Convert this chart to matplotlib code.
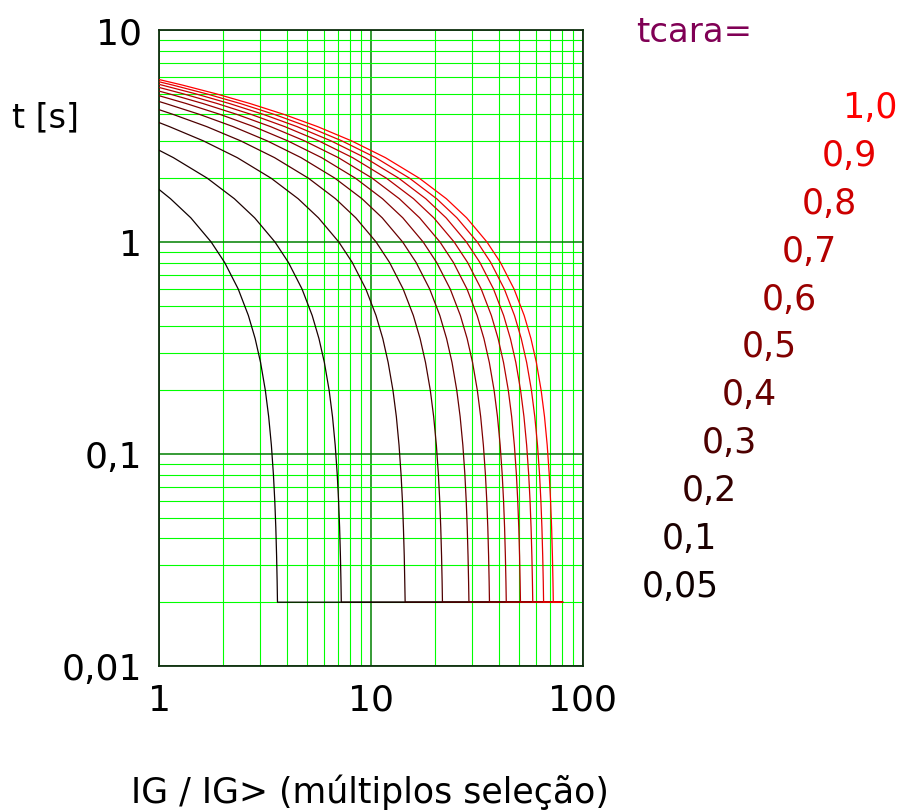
import matplotlib
matplotlib.use("Agg")
import matplotlib.pyplot as plt
from matplotlib.ticker import NullFormatter, LogLocator

# tcara settings and label texts
tcara = [0.05, 0.1, 0.2, 0.3, 0.4, 0.5, 0.6, 0.7, 0.8, 0.9, 1.0]
tcara_labels = ['0,05', '0,1', '0,2', '0,3', '0,4', '0,5', '0,6', '0,7', '0,8', '0,9', '1,0']
curve_colors = ['#0d0000', '#1a0000', '#330000', '#4d0000', '#660000', '#800000',
                '#990000', '#b30000', '#cc0000', '#e60000', '#ff0000']

# t at IG/IG> = 1 for each curve
t_start = [1.77, 2.71, 3.66, 4.21, 4.60, 4.90, 5.15, 5.36, 5.54, 5.70, 5.84]

# time levels at which the crossing multiples were read
t_levels = [5.5, 5.0, 4.5, 4.0, 3.5, 3.0, 2.5, 2.0, 1.6, 1.3, 1.0, 0.8, 0.6, 0.45,
            0.35, 0.27, 0.2, 0.15, 0.11, 0.08, 0.06, 0.045, 0.033, 0.025, 0.02]

# multiples IG/IG> where each curve crosses the last len(row) entries of t_levels
x_cross = [
    [1.133, 1.413, 1.762, 2.041, 2.364, 2.640, 2.842, 3.014, 3.173, 3.291, 3.389,
     3.465, 3.517, 3.556, 3.587, 3.608, 3.621],
    [1.169, 1.689, 2.267, 2.826, 3.524, 4.081, 4.728, 5.280, 5.683, 6.027, 6.345,
     6.583, 6.779, 6.930, 7.033, 7.111, 7.174, 7.216, 7.243],
    [1.121, 1.618, 2.339, 3.378, 4.533, 5.652, 7.049, 8.163, 9.457, 10.56, 11.37,
     12.05, 12.69, 13.17, 13.56, 13.86, 14.07, 14.22, 14.35, 14.43, 14.49],
    [1.164, 1.681, 2.428, 3.508, 5.067, 6.800, 8.478, 10.57, 12.24, 14.18, 15.84,
     17.05, 18.08, 19.04, 19.75, 20.34, 20.79, 21.10, 21.33, 21.52, 21.65, 21.73],
    [1.075, 1.552, 2.241, 3.237, 4.678, 6.756, 9.067, 11.30, 14.10, 16.33, 18.91,
     21.12, 22.73, 24.11, 25.38, 26.33, 27.12, 27.72, 28.13, 28.44, 28.69, 28.86, 28.97],
    [1.343, 1.940, 2.802, 4.046, 5.847, 8.445, 11.33, 14.13, 17.62, 20.41, 23.64,
     26.40, 28.42, 30.14, 31.73, 32.91, 33.89, 34.65, 35.17, 35.56, 35.87, 36.08, 36.21],
    [1.116, 1.612, 2.328, 3.362, 4.855, 7.016, 10.13, 13.60, 16.96, 21.15, 24.49, 28.37,
     31.68, 34.10, 36.16, 38.07, 39.50, 40.67, 41.58, 42.20, 42.67, 43.04, 43.30, 43.46],
    [1.302, 1.881, 2.717, 3.923, 5.665, 8.186, 11.82, 15.87, 19.78, 24.67, 28.57, 33.10,
     36.96, 39.78, 42.19, 44.42, 46.08, 47.45, 48.51, 49.23, 49.78, 50.22, 50.51, 50.70],
    [1.031, 1.488, 2.149, 3.105, 4.483, 6.474, 9.355, 13.51, 18.13, 22.61, 28.19, 32.65,
     37.83, 42.24, 45.46, 48.22, 50.76, 52.66, 54.23, 55.44, 56.27, 56.89, 57.39, 57.73, 57.94],
    [1.160, 1.674, 2.418, 3.493, 5.043, 7.283, 10.52, 15.20, 20.40, 25.43, 31.72, 36.73,
     42.55, 47.52, 51.15, 54.24, 57.11, 59.24, 61.01, 62.37, 63.30, 64.00, 64.56, 64.95, 65.18],
    [1.288, 1.860, 2.686, 3.881, 5.604, 8.092, 11.69, 16.89, 22.67, 28.26, 35.24, 40.81,
     47.28, 52.80, 56.83, 60.27, 63.45, 65.83, 67.79, 69.30, 70.33, 71.11, 71.74, 72.16, 72.43],
]

t_min = 0.02      # definite minimum time
x_end = 80        # curves are drawn up to this multiple

W, H = 899, 812
fig = plt.figure(figsize=(W / 100, H / 100), dpi=100)
ax = fig.add_axes([159 / W, 1 - 667 / H, (583 - 159) / W, (667 - 31) / H])
ax.set_xscale('log')
ax.set_yscale('log')
ax.set_xlim(1, 100)
ax.set_ylim(0.01, 10)

for i, tc in enumerate(tcara):
    xc = x_cross[i]
    xs = [1] + xc + [x_end]
    ts = [t_start[i]] + t_levels[-len(xc):] + [t_min]
    ax.plot(xs, ts, color=curve_colors[i], lw=0.9, solid_joinstyle='round', zorder=3)

# grid
ax.set_axisbelow(True)
ax.xaxis.set_minor_locator(LogLocator(base=10, subs=range(2, 10)))
ax.yaxis.set_minor_locator(LogLocator(base=10, subs=range(2, 10)))
ax.xaxis.set_minor_formatter(NullFormatter())
ax.yaxis.set_minor_formatter(NullFormatter())
ax.grid(which='minor', color='#00ff00', lw=0.8)
ax.grid(which='major', color='#008000', lw=1.1)

ax.set_xticks([1, 10, 100], ['1', '10', '100'])
ax.set_yticks([0.01, 0.1, 1, 10], ['0,01', '0,1', '1', '10'])
ax.tick_params(which='both', length=0, labelsize=26)
ax.tick_params(axis='x', pad=12)
ax.tick_params(axis='y', pad=12)
for s in ax.spines.values():
    s.set_color('#0f2f0f')
    s.set_linewidth(1.3)

# axis titles
fig.text(12 / W, 1 - 118 / H, 't [s]', fontsize=24, ha='left', va='center')
fig.text(370 / W, 1 - 792 / H, 'IG / IG> (múltiplos seleção)', fontsize=25,
         ha='center', va='center')

# curve labels on the right
fig.text(636 / W, 1 - 32 / H, 'tcara=', fontsize=24.5, color='#800055',
         ha='left', va='center')
for i, lab in enumerate(tcara_labels):
    fig.text((642 + 20 * i) / W, 1 - (587 - 47.9 * i) / H, lab, fontsize=25,
             color=curve_colors[i], ha='left', va='center')

fig.savefig('out.png', dpi=100)
